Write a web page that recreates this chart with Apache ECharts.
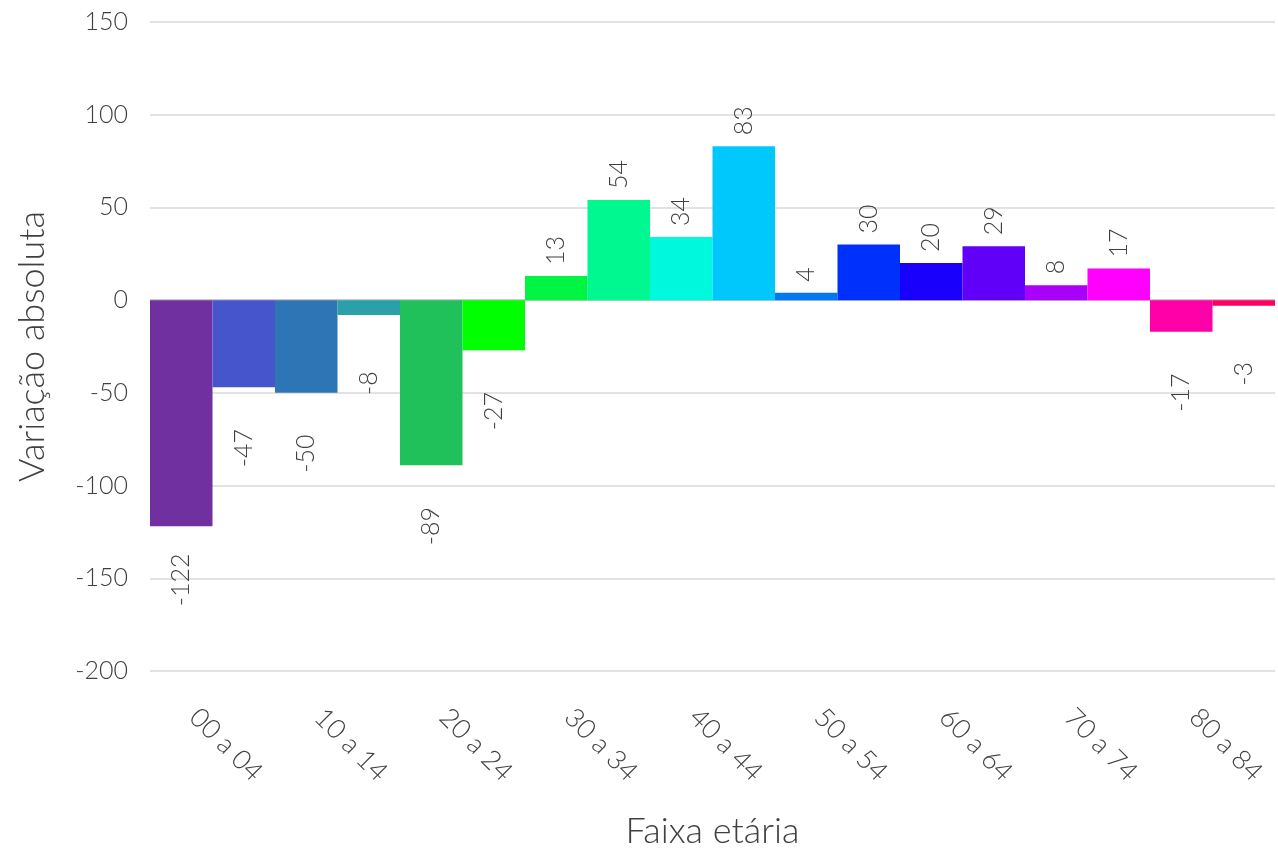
<!DOCTYPE html>
<html>
<head>
<meta charset="utf-8">
<script src="https://cdn.jsdelivr.net/npm/echarts@6/dist/echarts.min.js"></script>
<style>html,body{margin:0;padding:0;background:#fff}#c{width:1278px;height:854px}</style>
</head>
<body>
<div id="c"></div>
<script>
var categories = ["00 a 04","05 a 09","10 a 14","15 a 19","20 a 24","25 a 29","30 a 34","35 a 39","40 a 44","45 a 49","50 a 54","55 a 59","60 a 64","65 a 69","70 a 74","75 a 79","80 a 84","85 ou mais"];
var values = [-122,-47,-50,-8,-89,-27,13,54,34,83,4,30,20,29,8,17,-17,-3];
var barColors = ["#7030A0","#4755CC","#2E75B6","#2CA0A8","#20C05A","#00FF00","#00F444","#00F890","#00F8DC","#00C8FC","#0078F0","#0030FC","#1800FC","#6000F8","#A800F8","#FF00FF","#FF00A8","#FF0060"];
var yTicks = {min:-200, max:150, interval:50};

var font = 'Lato, "Open Sans", sans-serif';
var txt = '#404040';
var chart = echarts.init(document.getElementById('c'), null, {renderer:'canvas'});
var data = values.map(function(v,i){
  return {
    value: v,
    itemStyle: {color: barColors[i]},
    label: v >= 0 ? {position:'top', distance:11, rotate:90, align:'left', verticalAlign:'middle'}
                  : {position:'bottom', distance:80, rotate:90, align:'left', verticalAlign:'middle'}
  };
});
chart.setOption({
  animation:false,
  grid:{left:150, right:3, top:22, bottom:183, containLabel:false},
  xAxis:{
    type:'category', data:categories,
    position:'bottom',
    axisLine:{show:false, onZero:false}, axisTick:{show:false},
    axisLabel:{interval:1, rotate:-45, margin:29, padding:[0,0,0,18], fontSize:27, color:txt, fontFamily:font, fontWeight:300},
    name:'Faixa etária', nameLocation:'middle', nameGap:142,
    nameTextStyle:{fontSize:36, color:txt, fontFamily:font, fontWeight:300}
  },
  yAxis:{
    type:'value', min:yTicks.min, max:yTicks.max, interval:yTicks.interval,
    axisLine:{show:false}, axisTick:{show:false},
    splitLine:{lineStyle:{color:'#d9d9d9', width:1.5}},
    axisLabel:{margin:22, fontSize:25, color:txt, fontFamily:font, fontWeight:300},
    name:'Variação absoluta', nameLocation:'middle', nameGap:100,
    nameTextStyle:{fontSize:36, color:txt, fontFamily:font, fontWeight:300}
  },
  series:[{
    type:'bar', data:data, barCategoryGap:'0%',
    label:{show:true, fontSize:25, color:txt, fontFamily:font, fontWeight:300},
    markLine:{silent:true, symbol:'none', label:{show:false},
      lineStyle:{color:'#c0c0c0', type:'solid', width:1.5}, data:[{yAxis:0}], z:0},
    z:2
  }]
});
</script>
</body>
</html>
